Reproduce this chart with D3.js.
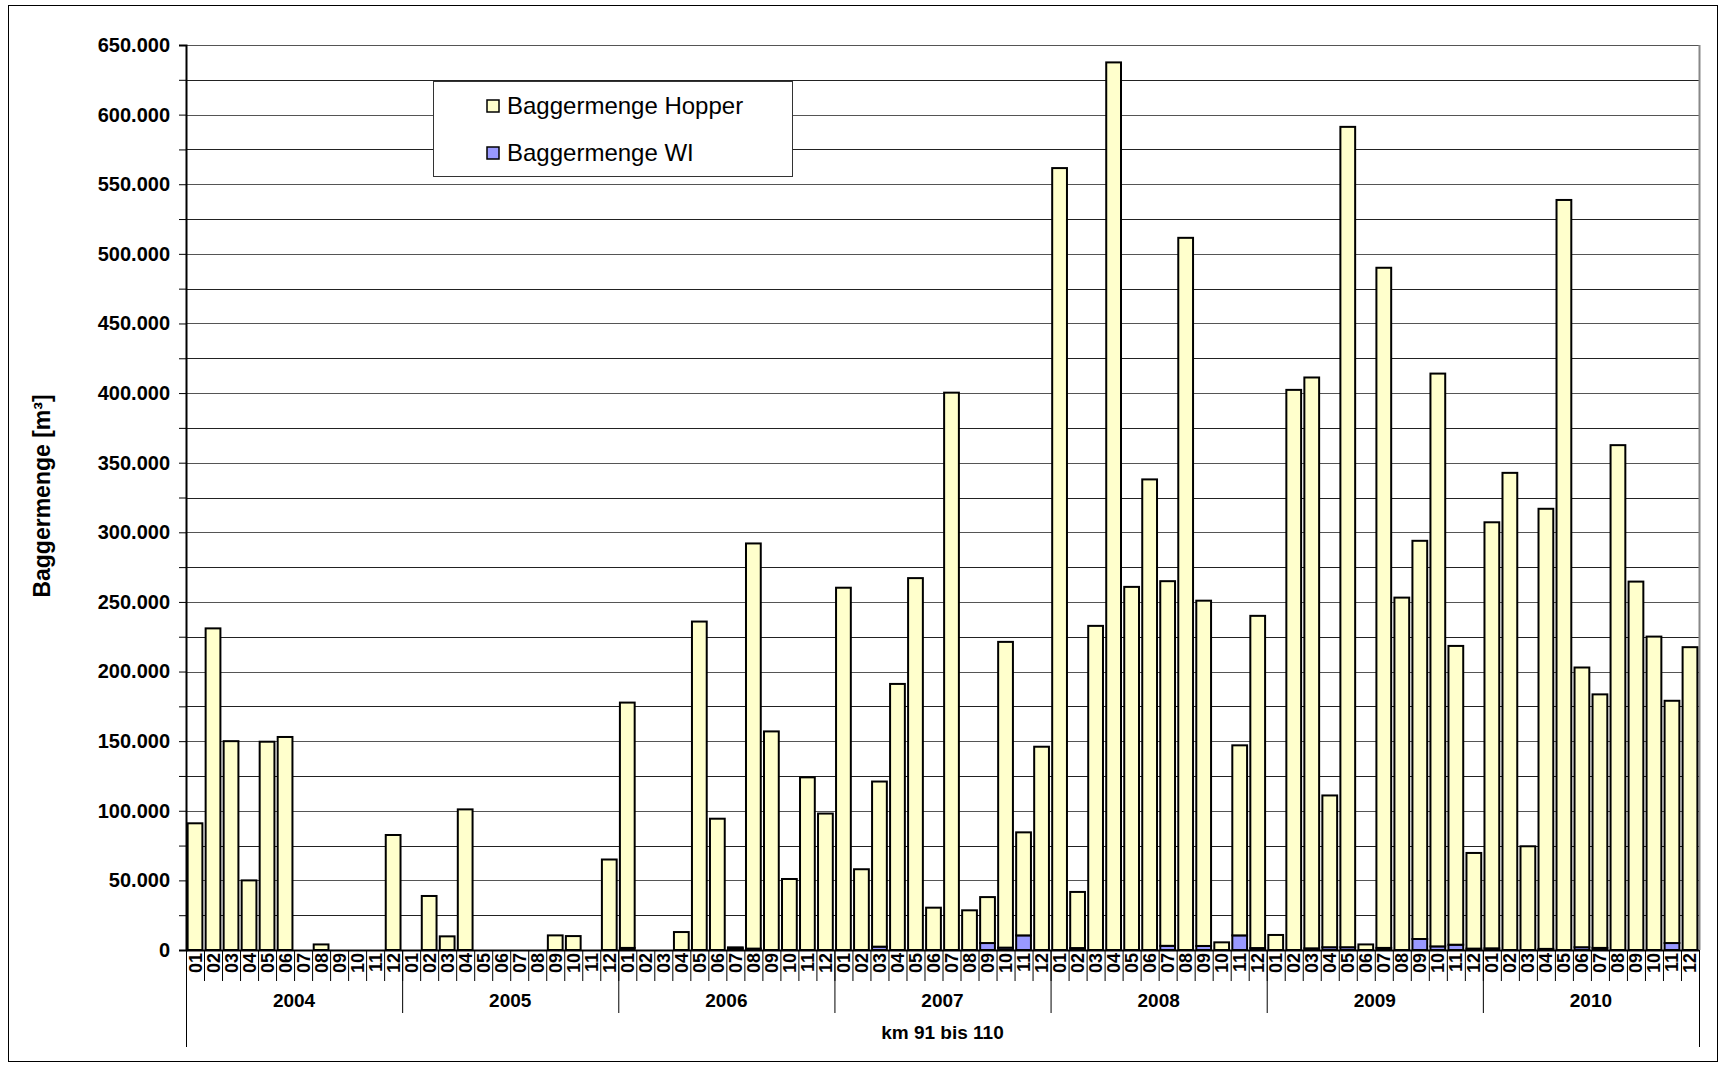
<!DOCTYPE html>
<html>
<head>
<meta charset="utf-8">
<script src="https://cdn.jsdelivr.net/npm/d3@7"></script>
<style>
  body { margin: 0; background: #fff; }
  svg { display: block; font-family: "Liberation Sans", Arial, sans-serif; }
</style>
</head>
<body>
<svg id="chart" width="1720" height="1066"></svg>
<script>
// Baggermengen km 91 bis 110, monthly 2004-2010
const years = ['2004', '2005', '2006', '2007', '2008', '2009', '2010'];
const months = ['01', '02', '03', '04', '05', '06', '07', '08', '09', '10', '11', '12'];

const hopper = [
  91000, 231000, 150000, 50000, 149600, 153000, 0, 4000, 0, 0, 0, 82600,
  0, 38800, 9800, 101000, 0, 0, 0, 0, 10500, 10000, 0, 65000,
  176200, 0, 0, 12900, 235900, 94300, 800, 291000, 157000, 51000, 124000, 98000,
  260200, 58000, 118600, 191100, 267100, 30400, 400300, 28500, 33000, 219600, 74000, 146000,
  561600, 40300, 232800, 637500, 260800, 338000, 261900, 511500, 248000, 5500, 136500, 238600,
  10800, 402300, 410000, 109000, 589200, 4000, 488500, 253100, 286000, 411400, 214600, 68700,
  306000, 342700, 74500, 316100, 538700, 200900, 182100, 362600, 264600, 225100, 174000, 217500
];
const wi = [
  0, 0, 0, 0, 0, 0, 0, 0, 0, 0, 0, 0,
  0, 0, 0, 0, 0, 0, 0, 0, 0, 0, 0, 0,
  1500, 0, 0, 0, 0, 0, 1100, 1000, 0, 0, 0, 0,
  0, 0, 2400, 0, 0, 0, 0, 0, 5000, 1700, 10500, 0,
  0, 1400, 0, 0, 0, 0, 3000, 0, 2900, 0, 10500, 1400,
  0, 0, 1200, 2000, 2000, 0, 1500, 0, 7900, 2600, 3800, 1000,
  1200, 0, 0, 800, 0, 2000, 1500, 0, 0, 0, 5000, 0
];
const yTicks = d3.range(0, 650001, 25000);

const seriesNames = ['Baggermenge WI', 'Baggermenge Hopper'];
const colors = { 'Baggermenge WI': '#9999ff', 'Baggermenge Hopper': '#ffffcc' };

// rows for stacking: WI sits at the bottom, Hopper on top
const rows = [];
years.forEach((yr, yi) => {
  months.forEach((m, mi) => {
    const i = yi * 12 + mi;
    rows.push({ key: yr + '-' + m, year: yr, month: m,
      'Baggermenge WI': wi[i], 'Baggermenge Hopper': hopper[i] });
  });
});

const svg = d3.select('#chart');
const plotLeft = 186, plotRight = 1699, plotTop = 45, plotBottom = 950;

// outer frame
svg.append('rect')
  .attr('x', 8.5).attr('y', 5.5).attr('width', 1709).attr('height', 1056)
  .attr('fill', 'none').attr('stroke', '#000').attr('stroke-width', 1);

const x = d3.scaleBand()
  .domain(rows.map(d => d.key))
  .range([plotLeft, plotRight])
  .paddingInner(0.18)
  .paddingOuter(0.09);

const y = d3.scaleLinear().domain([0, 650000]).range([plotBottom, plotTop]);

// gridlines
svg.append('g')
  .selectAll('line')
  .data(yTicks)
  .join('line')
  .attr('x1', plotLeft).attr('x2', plotRight)
  .attr('y1', d => Math.round(y(d)) + 0.5).attr('y2', d => Math.round(y(d)) + 0.5)
  .attr('stroke', d => d % 50000 === 0 ? '#555' : '#222')
  .attr('stroke-width', 1);

// right edge of plot area
svg.append('line')
  .attr('x1', plotRight + 0.5).attr('x2', plotRight + 0.5)
  .attr('y1', plotTop).attr('y2', plotBottom)
  .attr('stroke', '#888').attr('stroke-width', 2);

// y axis
const yAxis = d3.axisLeft(y)
  .tickValues(yTicks)
  .tickSize(7)
  .tickFormat(d => d % 50000 === 0 ? d3.format(',')(d).replace(/,/g, '.') : '');

const gy = svg.append('g')
  .attr('transform', `translate(${plotLeft},0)`)
  .call(yAxis);
gy.select('.domain').attr('stroke', '#000').attr('stroke-width', 2);
gy.selectAll('.tick line').attr('stroke', '#000');
gy.selectAll('.tick text')
  .attr('x', -16)
  .attr('font-size', 20)
  .attr('font-weight', 'bold')
  .attr('fill', '#000')
  .attr('font-family', '"Liberation Sans", Arial, sans-serif');

// bars
const stacked = d3.stack().keys(seriesNames)(rows);
svg.append('g')
  .selectAll('g')
  .data(stacked)
  .join('g')
  .attr('fill', s => colors[s.key])
  .selectAll('rect')
  .data(s => s.filter(d => d[1] - d[0] > 0))
  .join('rect')
  .attr('x', d => x(d.data.key))
  .attr('width', x.bandwidth())
  .attr('y', d => y(d[1]))
  .attr('height', d => y(d[0]) - y(d[1]))
  .attr('stroke', '#000')
  .attr('stroke-width', 2);

// x axis line
svg.append('line')
  .attr('x1', plotLeft).attr('x2', plotRight)
  .attr('y1', plotBottom + 0.5).attr('y2', plotBottom + 0.5)
  .attr('stroke', '#000').attr('stroke-width', 2);

// month separators, labels
const monthG = svg.append('g');
rows.forEach((d, i) => {
  const bx = plotLeft + i * (plotRight - plotLeft) / rows.length;
  monthG.append('line')
    .attr('x1', bx + 0.5).attr('x2', bx + 0.5)
    .attr('y1', plotBottom).attr('y2', plotBottom + 31)
    .attr('stroke', '#000').attr('stroke-width', 1);
});
monthG.selectAll('text')
  .data(rows)
  .join('text')
  .attr('transform', d => `translate(${x(d.key) + x.bandwidth() / 2 + 6.5},${plotBottom + 3}) rotate(-90)`)
  .attr('text-anchor', 'end')
  .attr('font-size', 18)
  .attr('font-weight', 'bold')
  .text(d => d.month);

// year groups
const yearW = (plotRight - plotLeft) / years.length;
const yearG = svg.append('g');
years.forEach((yr, yi) => {
  const gx = plotLeft + yi * yearW;
  yearG.append('line')
    .attr('x1', gx + 0.5).attr('x2', gx + 0.5)
    .attr('y1', plotBottom).attr('y2', yi === 0 ? 1047 : 1013)
    .attr('stroke', '#000').attr('stroke-width', 1);
  yearG.append('text')
    .attr('x', gx + yearW / 2).attr('y', 1007)
    .attr('text-anchor', 'middle')
    .attr('font-size', 19)
    .attr('font-weight', 'bold')
    .text(yr);
});
yearG.append('line')
  .attr('x1', plotRight + 0.5).attr('x2', plotRight + 0.5)
  .attr('y1', plotBottom).attr('y2', 1047)
  .attr('stroke', '#000').attr('stroke-width', 1);

svg.append('text')
  .attr('x', (plotLeft + plotRight) / 2).attr('y', 1039)
  .attr('text-anchor', 'middle')
  .attr('font-size', 19)
  .attr('font-weight', 'bold')
  .text('km 91 bis 110');

// y title
svg.append('text')
  .attr('transform', `translate(50,496) rotate(-90)`)
  .attr('text-anchor', 'middle')
  .attr('font-size', 23)
  .attr('font-weight', 'bold')
  .text('Baggermenge [m³]');

// legend
const legend = svg.append('g');
legend.append('rect')
  .attr('x', 433.5).attr('y', 81.5).attr('width', 359).attr('height', 95)
  .attr('fill', '#fff').attr('stroke', '#333').attr('stroke-width', 1);
const legendItems = ['Baggermenge Hopper', 'Baggermenge WI'];
legendItems.forEach((name, i) => {
  const cy = 106 + i * 47;
  legend.append('rect')
    .attr('x', 487).attr('y', cy - 6).attr('width', 12).attr('height', 12)
    .attr('fill', colors[name]).attr('stroke', '#000').attr('stroke-width', 1.5);
  legend.append('text')
    .attr('x', 507).attr('y', cy + 8)
    .attr('font-size', 24)
    .text(name);
});
</script>
</body>
</html>
